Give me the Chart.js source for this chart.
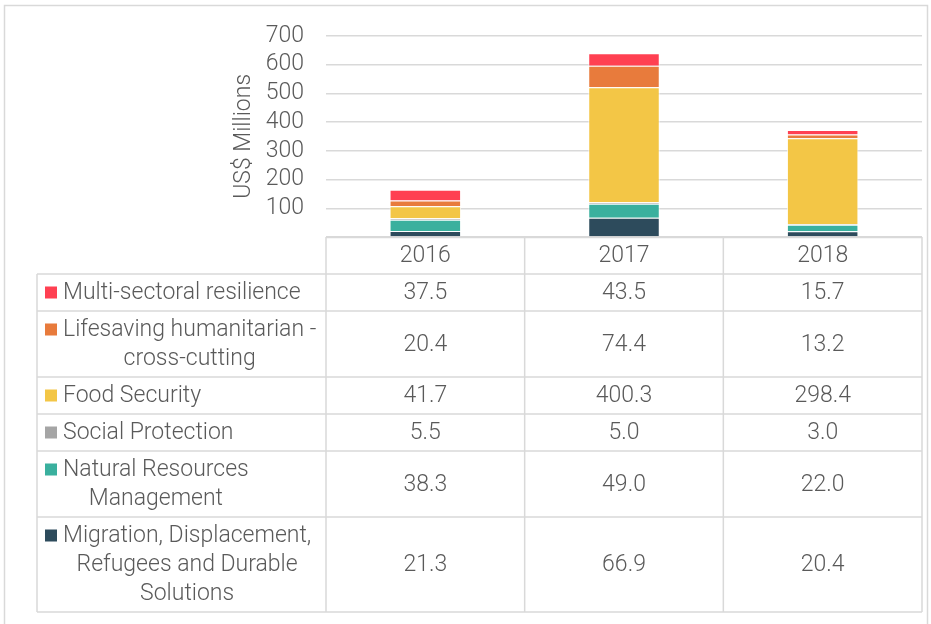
<!DOCTYPE html>
<html>
<head>
<meta charset="utf-8">
<script src="https://cdn.jsdelivr.net/npm/chart.js@4.4.1/dist/chart.umd.min.js"></script>
<style>
  html, body { margin: 0; padding: 0; background: #fff; }
  #wrap { width: 931px; height: 624px; }
</style>
</head>
<body>
<div id="wrap"><canvas id="fundingChart" width="931" height="624"></canvas></div>
<script>
const years = ['2016', '2017', '2018'];

// bottom of the stack first
const seriesNames = [
    ['Migration, Displacement,', 'Refugees and Durable', 'Solutions'],
    ['Natural Resources', 'Management'],
    ['Social Protection'],
    ['Food Security'],
    ['Lifesaving humanitarian -', 'cross-cutting'],
    ['Multi-sectoral resilience']
];
const migration = [21.3, 66.9, 20.4];
const naturalResources = [38.3, 49.0, 22.0];
const socialProtection = [5.5, 5.0, 3.0];
const foodSecurity = [41.7, 400.3, 298.4];
const lifesaving = [20.4, 74.4, 13.2];
const multiSectoral = [37.5, 43.5, 15.7];
const seriesValues = [migration, naturalResources, socialProtection, foodSecurity, lifesaving, multiSectoral];
const seriesColors = ['#2d4b5c', '#3ab09e', '#a5a5a5', '#f3c646', '#e87b3c', '#ff4052'];

const yTicks = [0, 100, 200, 300, 400, 500, 600, 700];

const textColor = '#5a5a5a';
const lineColor = '#d9d9d9';
const fontFamily = 'Roboto, "Liberation Sans", sans-serif';
const fontSize = 23;

// data table drawn under the plot, columns follow the x scale
const tablePlugin = {
    id: 'dataTable',
    afterDraw(chart) {
        const ctx = chart.ctx;
        const x = chart.scales.x;
        const area = chart.chartArea;
        const colW = x.width / years.length;
        const labelLeft = 37;
        const lineH = 29;
        const headerBottom = area.bottom + 37;

        ctx.save();
        ctx.font = '300 ' + fontSize + 'px ' + fontFamily;
        ctx.fillStyle = textColor;
        ctx.textBaseline = 'middle';
        ctx.strokeStyle = lineColor;
        ctx.lineWidth = 1.5;

        // outer frame
        ctx.beginPath();
        ctx.moveTo(4.5, 624);
        ctx.lineTo(4.5, 5.5);
        ctx.lineTo(927.5, 5.5);
        ctx.lineTo(927.5, 624);
        ctx.stroke();

        // header row with years
        ctx.textAlign = 'center';
        years.forEach((yr, i) => {
            ctx.fillText(yr, x.getPixelForValue(i), (area.bottom + headerBottom) / 2 + 1);
        });

        const rows = seriesNames.map((n, i) => i).reverse();
        let top = headerBottom;
        const rowTops = [top];
        rows.forEach(si => {
            const lines = seriesNames[si];
            const h = 8 + lines.length * lineH;
            const mid = top + h / 2;
            // legend marker and label
            let maxW = 0;
            lines.forEach(l => { maxW = Math.max(maxW, ctx.measureText(l).width); });
            const textCenter = 63 + maxW / 2;
            lines.forEach((l, k) => {
                const ly = mid + (k - (lines.length - 1) / 2) * lineH;
                ctx.fillText(l, textCenter, ly + 1);
            });
            const firstY = mid - (lines.length - 1) / 2 * lineH;
            ctx.fillStyle = seriesColors[si];
            ctx.fillRect(45, firstY - 6, 12, 12);
            ctx.fillStyle = textColor;
            // values
            seriesValues[si].forEach((v, i) => {
                ctx.fillText(v.toFixed(1), x.getPixelForValue(i), mid + 1);
            });
            top += h;
            rowTops.push(top);
        });

        // grid of the table
        ctx.beginPath();
        ctx.moveTo(x.left, area.bottom + 0.5);
        ctx.lineTo(x.right, area.bottom + 0.5);
        rowTops.forEach(t => {
            ctx.moveTo(labelLeft, t);
            ctx.lineTo(x.right, t);
        });
        ctx.moveTo(labelLeft, headerBottom);
        ctx.lineTo(labelLeft, top);
        for (let i = 0; i <= years.length; i++) {
            const cx = x.left + i * colW;
            ctx.moveTo(cx, area.bottom);
            ctx.lineTo(cx, top);
        }
        ctx.stroke();
        ctx.restore();
    }
};

const ctx = document.getElementById('fundingChart').getContext('2d');
const fundingChart = new Chart(ctx, {
    type: 'bar',
    data: {
        labels: years,
        datasets: seriesNames.map((name, i) => ({
            label: name.join(' '),
            data: seriesValues[i],
            backgroundColor: seriesColors[i],
            borderColor: 'rgba(255,255,255,0.7)',
            borderWidth: 1,
            categoryPercentage: 1,
            barPercentage: 0.36
        }))
    },
    options: {
        responsive: false,
        animation: false,
        layout: {
            padding: { left: 230, right: 9, top: 33, bottom: 387 }
        },
        plugins: {
            legend: { display: false },
            tooltip: { enabled: false }
        },
        scales: {
            x: {
                stacked: true,
                display: false
            },
            y: {
                stacked: true,
                min: yTicks[0],
                max: yTicks[yTicks.length - 1],
                afterFit: s => { s.width = 96; },
                afterBuildTicks: s => { s.ticks = yTicks.map(v => ({ value: v })); },
                border: { display: false },
                grid: {
                    color: lineColor,
                    lineWidth: 1.5,
                    drawTicks: false
                },
                ticks: {
                    autoSkip: false,
                    padding: 22,
                    color: textColor,
                    font: { family: fontFamily, size: fontSize, weight: '300' },
                    callback: v => (v === 0 ? '' : v)
                },
                title: {
                    display: true,
                    text: 'US$ Millions',
                    color: textColor,
                    padding: 0,
                    font: { family: fontFamily, size: fontSize, weight: '300' }
                }
            }
        }
    },
    plugins: [tablePlugin]
});
</script>
</body>
</html>
